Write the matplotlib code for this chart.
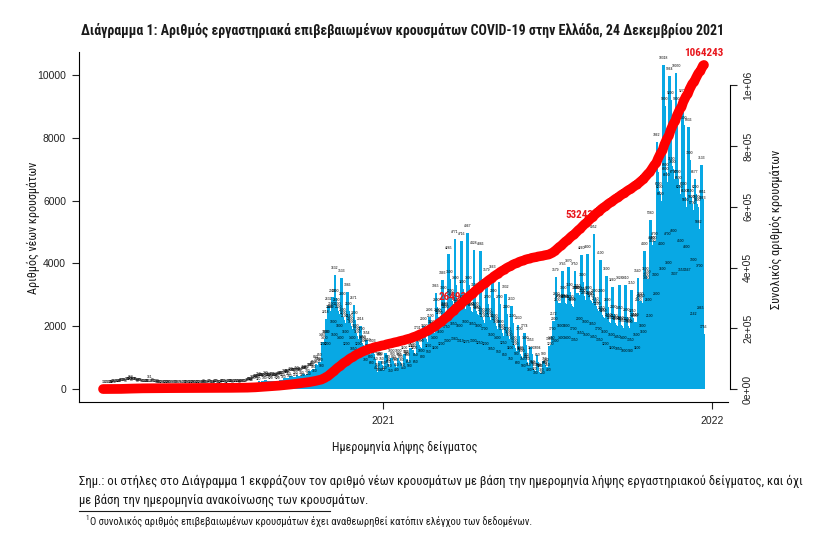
import matplotlib
matplotlib.use("Agg")
import matplotlib.pyplot as plt
import matplotlib.dates as mdates
import numpy as np
import pandas as pd
from matplotlib import font_manager
from matplotlib.lines import Line2D

# daily new cases by sampling date, starting 26 Feb 2020, one row per week (Wed..Tue)
cases_mar_aug_2020 = [
    1, 1, 0, 2, 1, 0, 3,
    2, 10, 14, 12, 20, 26, 18,
    30, 35, 42, 38, 30, 45, 55,
    60, 72, 80, 65, 50, 90, 85,
    95, 110, 120, 162, 80, 100, 105,
    90, 85, 70, 60, 45, 75, 65,
    55, 50, 45, 35, 25, 40, 30,
    30, 35, 25, 161, 20, 40, 60,
    35, 25, 20, 15, 10, 20, 18,
    15, 12, 10, 8, 6, 12, 10,
    12, 10, 8, 6, 5, 10, 9,
    8, 9, 7, 5, 4, 10, 8,
    7, 8, 6, 4, 3, 9, 7,
    10, 12, 9, 6, 5, 11, 10,
    12, 10, 9, 6, 5, 14, 12,
    15, 12, 10, 8, 6, 18, 16,
    20, 18, 15, 10, 8, 22, 20,
    18, 16, 14, 10, 8, 20, 22,
    20, 18, 15, 12, 10, 25, 22,
    25, 22, 20, 15, 12, 30, 28,
    30, 28, 25, 20, 15, 35, 32,
    35, 32, 30, 22, 18, 45, 40,
    50, 48, 45, 35, 28, 70, 65,
]
cases_aug_oct_2020 = [
    90, 100, 110, 80, 60, 150, 140,
    170, 180, 200, 150, 110, 250, 230,
    220, 230, 240, 180, 140, 280, 260,
    230, 240, 230, 170, 120, 260, 250,
    220, 230, 240, 170, 120, 270, 260,
    280, 290, 300, 220, 160, 350, 330,
    320, 340, 350, 260, 190, 420, 400,
    370, 380, 390, 290, 210, 450, 430,
    390, 400, 410, 300, 220, 480, 460,
    440, 460, 470, 340, 250, 560, 540,
    560, 600, 650, 480, 360, 800, 750,
    650, 750, 850, 700, 500, 1485, 1200,
]
cases_nov_dec_2020 = [
    1400, 1600, 2218, 1600, 1200, 2632, 2400,
    2400, 2500, 2916, 1900, 1500, 3632, 2900,
    2600, 2500, 2400, 1800, 1400, 3533, 2800,
    2300, 2200, 2100, 1600, 1200, 3086, 2500,
    2100, 2000, 1900, 1400, 1050, 2671, 2200,
    1800, 1700, 1600, 1200, 900, 2014, 1700,
    1450, 1400, 1300, 950, 700, 1554, 1350,
    1150, 1100, 1050, 800, 600, 1303, 1100,
    950, 750, 450, 550, 380, 900, 850,
]
cases_jan_apr_2021 = [
    900, 750, 400, 600, 450, 1148, 1071,
    800, 700, 650, 500, 350, 1000, 900,
    800, 750, 700, 550, 400, 1000, 900,
    850, 800, 700, 550, 450, 1100, 950,
    950, 900, 850, 650, 500, 1300, 1150,
    1250, 1150, 1100, 850, 650, 1731, 1500,
    1400, 1350, 1300, 1000, 800, 2000, 1800,
    1600, 1550, 1500, 1150, 950, 2306, 2100,
    1900, 1850, 1800, 1400, 1100, 3065, 2600,
    2300, 2250, 2200, 1600, 1200, 3466, 3000,
    2500, 2450, 2400, 1750, 1300, 4285, 3500,
    2900, 2800, 2700, 1850, 1380, 4771, 3300,
    2600, 2550, 2500, 1800, 1313, 4716, 3200,
    2700, 2600, 2550, 1900, 1275, 4967, 3300,
    2600, 2500, 2450, 1850, 1300, 4428, 3100,
    2500, 2400, 2350, 1800, 1250, 4386, 3000,
    2300, 2200, 2100, 1700, 1200, 3579, 2700,
]
cases_may_aug_2021 = [
    2300, 2200, 2100, 1500, 1050, 3663, 2900,
    2100, 2000, 1900, 1400, 950, 3400, 2700,
    1900, 1800, 1700, 1250, 850, 3032, 2400,
    1700, 1600, 1500, 1100, 750, 2630, 2100,
    1400, 1300, 1200, 900, 600, 2030, 1700,
    1100, 1050, 1000, 750, 500, 1774, 1400,
    850, 800, 750, 550, 380, 1353, 1100,
    650, 600, 560, 420, 300, 1094, 850,
    550, 520, 500, 380, 280, 900, 750,
    600, 650, 700, 550, 400, 1360, 1200,
    1400, 1700, 2172, 2000, 1300, 3579, 2800,
    2600, 2700, 2750, 1800, 1400, 3745, 3000,
    2700, 2750, 2700, 1800, 1400, 3870, 3100,
    2700, 2650, 2600, 1700, 1350, 3750, 3000,
    3000, 3050, 3000, 2000, 1550, 4260, 3400,
    2900, 2950, 2850, 1900, 1500, 4300, 3000,
    2850, 2800, 2750, 1850, 1450, 4952, 2900,
    2650, 2550, 2500, 1700, 1350, 4100, 2900,
]
cases_sep_dec_2021 = [
    2350, 2300, 2250, 1600, 1200, 3600, 2600,
    2150, 2100, 2050, 1500, 1100, 3260, 2400,
    2100, 2050, 2000, 1450, 1050, 3328, 2350,
    2050, 2000, 1950, 1400, 1000, 3310, 2300,
    2000, 1950, 1900, 1350, 980, 3150, 2250,
    2150, 2100, 2150, 1500, 1100, 3540, 2600,
    2700, 2800, 2750, 1800, 1600, 4400, 3600,
    3300, 3400, 3500, 2600, 2100, 5380, 4600,
    4500, 4600, 4700, 3400, 2800, 7862, 6900,
    6300, 6200, 6000, 4400, 3600, 10318, 9000,
    6900, 6800, 6600, 4700, 3800, 9964, 9200,
    7100, 7000, 6700, 4800, 3437, 10050, 9000,
    6700, 6500, 6200, 4500, 3553, 9273, 8400,
    6300, 6100, 5800, 4300, 3567, 8336, 7300,
    6100, 5900, 5700, 3900, 2162, 6677, 6200,
    5900, 5800, 5082, 3700, 2365, 7133, 6051,
    5863, 1756,
]

first_day = "2020-02-26"
total_cases = 1064243
milestones = [264935, 532433]

title_text = "Διάγραμμα 1: Αριθμός εργαστηριακά επιβεβαιωμένων κρουσμάτων COVID-19 στην Ελλάδα, 24 Δεκεμβρίου 2021"
ylabel_left = "Αριθμός νέων κρουσμάτων"
ylabel_right = "Συνολικός αριθμός κρουσμάτων"
xlabel_text = "Ημερομηνία λήψης δείγματος"
note_1 = ("Σημ.: οι στήλες στο Διάγραμμα 1 εκφράζουν τον αριθμό νέων κρουσμάτων με βάση "
          "την ημερομηνία λήψης εργαστηριακού δείγματος, και όχι")
note_2 = "με βάση την ημερομηνία ανακοίνωσης των κρουσμάτων."
footnote = "Ο συνολικός αριθμός επιβεβαιωμένων κρουσμάτων έχει αναθεωρηθεί κατόπιν ελέγχου των δεδομένων."
left_ticks = [0, 2000, 4000, 6000, 8000, 10000]
right_ticks = [0, 200000, 400000, 600000, 800000, 1000000]
right_tick_labels = ["0e+00", "2e+05", "4e+05", "6e+05", "8e+05", "1e+06"]

# fonts
installed = {f.name for f in font_manager.fontManager.ttflist}
def pick(*names):
    for n in names:
        if n in installed:
            return n
    return "DejaVu Sans"
narrow = pick("Liberation Sans Narrow", "Roboto Condensed", "Roboto")
regular = pick("Liberation Sans", "Roboto")
plt.rcParams["font.family"] = [regular, "DejaVu Sans"]

daily = np.array(cases_mar_aug_2020 + cases_aug_oct_2020 + cases_nov_dec_2020 +
                 cases_jan_apr_2021 + cases_may_aug_2021 + cases_sep_dec_2021)
dates = pd.date_range(first_day, periods=len(daily), freq="D")
xs = mdates.date2num(dates.to_pydatetime())
cum = np.cumsum(daily)

W, H = 816, 537
fig = plt.figure(figsize=(W / 100, H / 100), dpi=100)
ax = fig.add_axes([79 / W, 1 - 402 / H, 649 / W, 350 / H])

blue = "#08a8e4"
ax.bar(xs, daily, width=3.0, color=blue, linewidth=0, zorder=2)
for x, v in zip(xs, daily):
    ax.annotate(str(v), (x, v), xytext=(0, 5), textcoords="offset points",
                ha="center", va="center", fontsize=2.4, color="black", zorder=3)

span = xs[-1] - xs[0]
ax.set_xlim(xs[0] - 0.04 * span, xs[-1] + 0.04 * span)
ax.set_ylim(-0.04 * daily.max(), 1.04 * daily.max())
ax.set_yticks(left_ticks)
ax.set_xticks(mdates.date2num([pd.Timestamp("2021-01-01"), pd.Timestamp("2022-01-01")]))
ax.set_xticklabels(["2021", "2022"])
for s in ["top", "right"]:
    ax.spines[s].set_visible(False)
for s in ["left", "bottom"]:
    ax.spines[s].set_linewidth(0.8)
ax.tick_params(axis="y", direction="out", length=5, width=0.8, labelsize=7.5, pad=4.3, colors="#222222")
ax.tick_params(axis="x", direction="out", length=5, width=0.8, labelsize=7.5, pad=5, colors="#222222")

# cumulative total on second axis
ax2 = ax.twinx()
ax2.set_ylim(-0.04 * cum[-1], 1.04 * cum[-1])
ax2.plot(xs, cum, color="#ff0000", lw=7, solid_capstyle="round", zorder=3)
red_text = "#e8161c"
for m in milestones:
    i = int(np.searchsorted(cum, m))
    ax2.annotate(str(m), (xs[i], cum[i]), xytext=(0, 5), textcoords="offset points",
                 ha="center", va="bottom", fontsize=8, fontweight="bold", color=red_text,
                 family=[narrow, "DejaVu Sans"], zorder=2)
ax2.annotate(str(total_cases), (xs[-1], cum[-1]), xytext=(0, 5), textcoords="offset points",
             ha="center", va="bottom", fontsize=8, fontweight="bold", color=red_text,
             family=[narrow, "DejaVu Sans"], zorder=4, annotation_clip=False)
for s in ["top", "left", "bottom"]:
    ax2.spines[s].set_visible(False)
ax2.spines["right"].set_bounds(0, 1000000)
ax2.spines["right"].set_position(("outward", 1.5))
ax2.spines["right"].set_linewidth(0.8)
ax2.set_yticks(right_ticks)
ax2.set_yticklabels(right_tick_labels)
ax2.tick_params(axis="y", direction="out", length=5, width=0.8, labelsize=7.5, pad=4.3,
                labelrotation=90, colors="#222222")
for lab in ax2.get_yticklabels():
    lab.set_va("center")

renderer = fig.canvas.get_renderer()
def fit(t, px):
    bb = t.get_window_extent(renderer)
    t.set_fontsize(t.get_fontsize() * px / max(bb.width, bb.height))

ink = "#1a1a1a"
title = fig.text(403 / W, 1 - 30 / H, title_text, ha="center", va="center", fontweight="bold",
                 color=ink, family=[narrow, "DejaVu Sans"], fontsize=10)
fit(title, 645)
xl = fig.text(405 / W, 1 - 447 / H, xlabel_text, ha="center", va="center", color=ink,
              family=[narrow, "DejaVu Sans"], fontsize=8)
fit(xl, 145)
yl = fig.text(33 / W, 1 - 228 / H, ylabel_left, ha="center", va="center", rotation=90, color=ink,
              family=[narrow, "DejaVu Sans"], fontsize=8)
fit(yl, 132)
yr = fig.text(776 / W, 1 - 229 / H, ylabel_right, ha="center", va="center", rotation=90, color=ink,
              family=[narrow, "DejaVu Sans"], fontsize=8)
fit(yr, 158)
n1 = fig.text(79 / W, 1 - 481 / H, note_1, ha="left", va="center", color=ink,
              family=[narrow, "DejaVu Sans"], fontsize=9)
fit(n1, 729)
fig.text(79 / W, 1 - 500 / H, note_2, ha="left", va="center", color=ink,
         family=[narrow, "DejaVu Sans"], fontsize=n1.get_fontsize())
fig.add_artist(Line2D([79 / W, 330 / W], [1 - 511 / H, 1 - 511 / H], lw=0.8, color=ink))
fig.text(85 / W, 1 - 518 / H, "1", ha="left", va="center", color=ink, fontsize=5,
         family=[narrow, "DejaVu Sans"])
fn = fig.text(90 / W, 1 - 522 / H, footnote, ha="left", va="center", color=ink,
              family=[narrow, "DejaVu Sans"], fontsize=7)
fit(fn, 447)

fig.savefig("out.png", dpi=100)
